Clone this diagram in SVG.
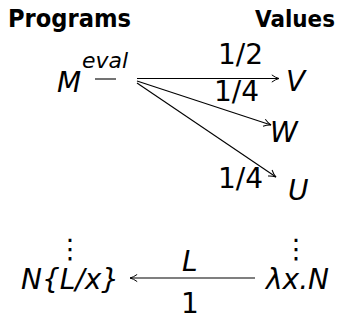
<svg xmlns="http://www.w3.org/2000/svg" width="342" height="334" viewBox="0 0 342 334">
<style>
text{font-family:"DejaVu Sans",sans-serif;fill:#000}
.h{font-weight:bold;font-size:25px}
.m{font-style:italic;font-size:28px}
.n{font-size:28px}
.d{font-size:27px}
.e{font-style:italic;font-size:21px}
.c line{stroke:#000;stroke-width:1.1}
</style>
<defs>
<marker id="ah" viewBox="0 0 10 10" refX="9" refY="5" markerWidth="9" markerHeight="9" markerUnits="userSpaceOnUse" orient="auto">
<path d="M1,1 Q5,4 9,5 Q5,6 1,9" fill="none" stroke="#000" stroke-width="1.1"/>
</marker>
</defs>
<g id="headers">
<text class="h" x="8" y="27" textLength="123" lengthAdjust="spacingAndGlyphs">Programs</text>
<text class="h" x="255" y="27" style="font-size:23px" textLength="80" lengthAdjust="spacingAndGlyphs">Values</text>
</g>
<g id="nodeM">
<text class="m" x="57" y="92">M</text>
<text class="e" x="82" y="68" textLength="46" lengthAdjust="spacingAndGlyphs">eval</text>
<line x1="95" y1="79" x2="116" y2="79" stroke="#000" stroke-width="1.1"/>
</g>
<g id="nodeV"><text class="m" x="286" y="91">V</text></g>
<g id="nodeW"><text class="m" x="270" y="142">W</text></g>
<g id="nodeU"><text class="m" x="288" y="200">U</text></g>
<g id="dotsL"><text class="d" x="70" y="258" text-anchor="middle">⋮</text></g>
<g id="dotsR"><text class="d" x="296" y="258" text-anchor="middle">⋮</text></g>
<g id="nodeNL"><text class="m" x="21" y="289">N{L/x}</text></g>
<g id="nodeLam"><text class="m" x="266" y="289">λx.N</text></g>
<g class="c" id="connectors">
<line x1="137" y1="78.5" x2="279" y2="78.5" marker-end="url(#ah)"/>
<line x1="137" y1="81" x2="271" y2="125" marker-end="url(#ah)"/>
<line x1="137" y1="83" x2="276" y2="177" marker-end="url(#ah)"/>
<line x1="255" y1="278" x2="130" y2="278" marker-end="url(#ah)"/>
<text class="n" x="218" y="64">1/2</text>
<text class="n" x="214" y="101">1/4</text>
<text class="n" x="218" y="188">1/4</text>
<text class="m" x="182" y="271">L</text>
<text class="n" x="181" y="313">1</text>
</g>
</svg>
